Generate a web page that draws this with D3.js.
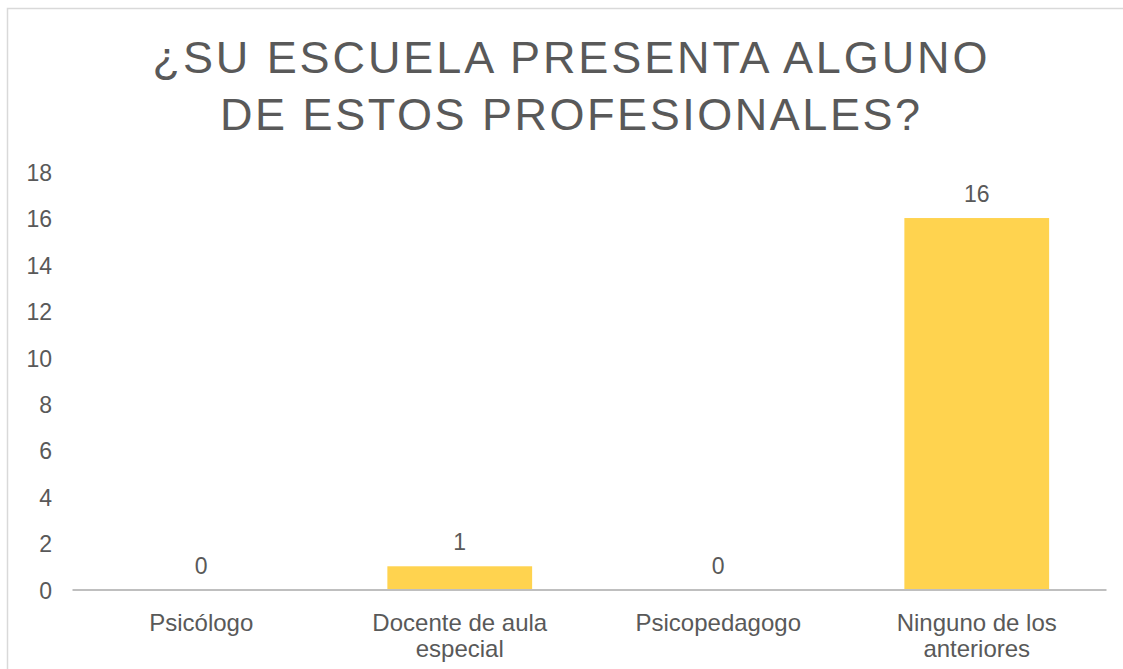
<!DOCTYPE html>
<html>
<head>
<meta charset="utf-8">
<script src="https://cdn.jsdelivr.net/npm/d3@7"></script>
<style>
  body { margin: 0; background: #fff; }
  text { font-family: "Liberation Sans", Arial, sans-serif; fill: #595959; }
</style>
</head>
<body>
<div id="chart"></div>
<script>
// Data
const titleLines = ['¿SU ESCUELA PRESENTA ALGUNO', 'DE ESTOS PROFESIONALES?'];
const titleWidths = [835, 700];
const categories = ['Psicólogo', 'Docente de aula especial', 'Psicopedagogo', 'Ninguno de los anteriores'];
const values = [0, 1, 0, 16];
const yTicks = [0, 2, 4, 6, 8, 10, 12, 14, 16, 18];

// Dimensions
const W = 1123, H = 669;
const plot = {left: 72, right: 1106, top: 171.6, bottom: 589.5};
const FONT = '"Liberation Sans", Arial, sans-serif';

const svg = d3.select('#chart')
  .append('svg')
  .attr('width', W)
  .attr('height', H);

// chart frame
svg.append('rect')
  .attr('x', 7.5).attr('y', 8.5)
  .attr('width', W + 20).attr('height', H + 20)
  .attr('fill', '#fff')
  .attr('stroke', '#d9d9d9')
  .attr('stroke-width', 1.5);

// Title
titleLines.forEach((t, i) => {
  svg.append('text')
    .attr('x', 570)
    .attr('y', 73 + i * 57)
    .attr('text-anchor', 'middle')
    .attr('textLength', titleWidths[i])
    .attr('lengthAdjust', 'spacing')
    .style('font-size', '45px')
    .text(t);
});

// Scales
const xScale = d3.scaleBand()
  .domain(categories)
  .range([plot.left, plot.right])
  .paddingInner(0.44)
  .paddingOuter(0.22);

const yScale = d3.scaleLinear()
  .domain([0, 18])
  .range([plot.bottom, plot.top]);

// Y axis (labels only)
const yAxis = d3.axisLeft(yScale)
  .tickValues(yTicks)
  .tickSize(0)
  .tickPadding(0);

svg.append('g')
  .attr('class', 'y axis')
  .attr('transform', 'translate(52,0)')
  .call(yAxis)
  .call(g => g.select('.domain').remove())
  .selectAll('text')
  .attr('dy', '0.38em')
  .style('font-size', '23px')
  .style('font-family', FONT)
  .attr('fill', '#595959');

// Bars
svg.append('g')
  .selectAll('rect')
  .data(values)
  .join('rect')
  .attr('x', (d, i) => xScale(categories[i]))
  .attr('y', d => yScale(d))
  .attr('width', xScale.bandwidth())
  .attr('height', d => yScale(0) - yScale(d))
  .attr('fill', '#ffd34f');

// Value labels
svg.append('g')
  .selectAll('text')
  .data(values)
  .join('text')
  .attr('x', (d, i) => xScale(categories[i]) + xScale.bandwidth() / 2)
  .attr('y', d => yScale(d) - 16)
  .attr('text-anchor', 'middle')
  .style('font-size', '23px')
  .text(d => d);

// X axis
const xAxis = d3.axisBottom(xScale)
  .tickSize(0)
  .tickSizeOuter(0)
  .tickPadding(0);

const xAxisDraw = svg.append('g')
  .attr('class', 'x axis')
  .attr('transform', `translate(0, ${plot.bottom})`)
  .call(xAxis);

xAxisDraw.select('.domain')
  .attr('stroke', '#bfbfbf')
  .attr('stroke-width', 2.2);

xAxisDraw.selectAll('.tick text')
  .attr('dy', null)
  .style('font-size', '24px')
  .style('font-family', FONT)
  .attr('fill', '#595959')
  .call(wrap, 200);

function wrap(texts, width) {
  texts.each(function() {
    const text = d3.select(this);
    const words = text.text().split(/\s+/);
    text.text(null);
    let line = [];
    let lineNo = 0;
    let tspan = text.append('tspan').attr('x', 0).attr('y', 41);
    words.forEach(w => {
      line.push(w);
      tspan.text(line.join(' '));
      if (tspan.node().getComputedTextLength() > width && line.length > 1) {
        line.pop();
        tspan.text(line.join(' '));
        line = [w];
        lineNo++;
        tspan = text.append('tspan').attr('x', 0).attr('y', 41 + lineNo * 26).text(w);
      }
    });
  });
}
</script>
</body>
</html>
